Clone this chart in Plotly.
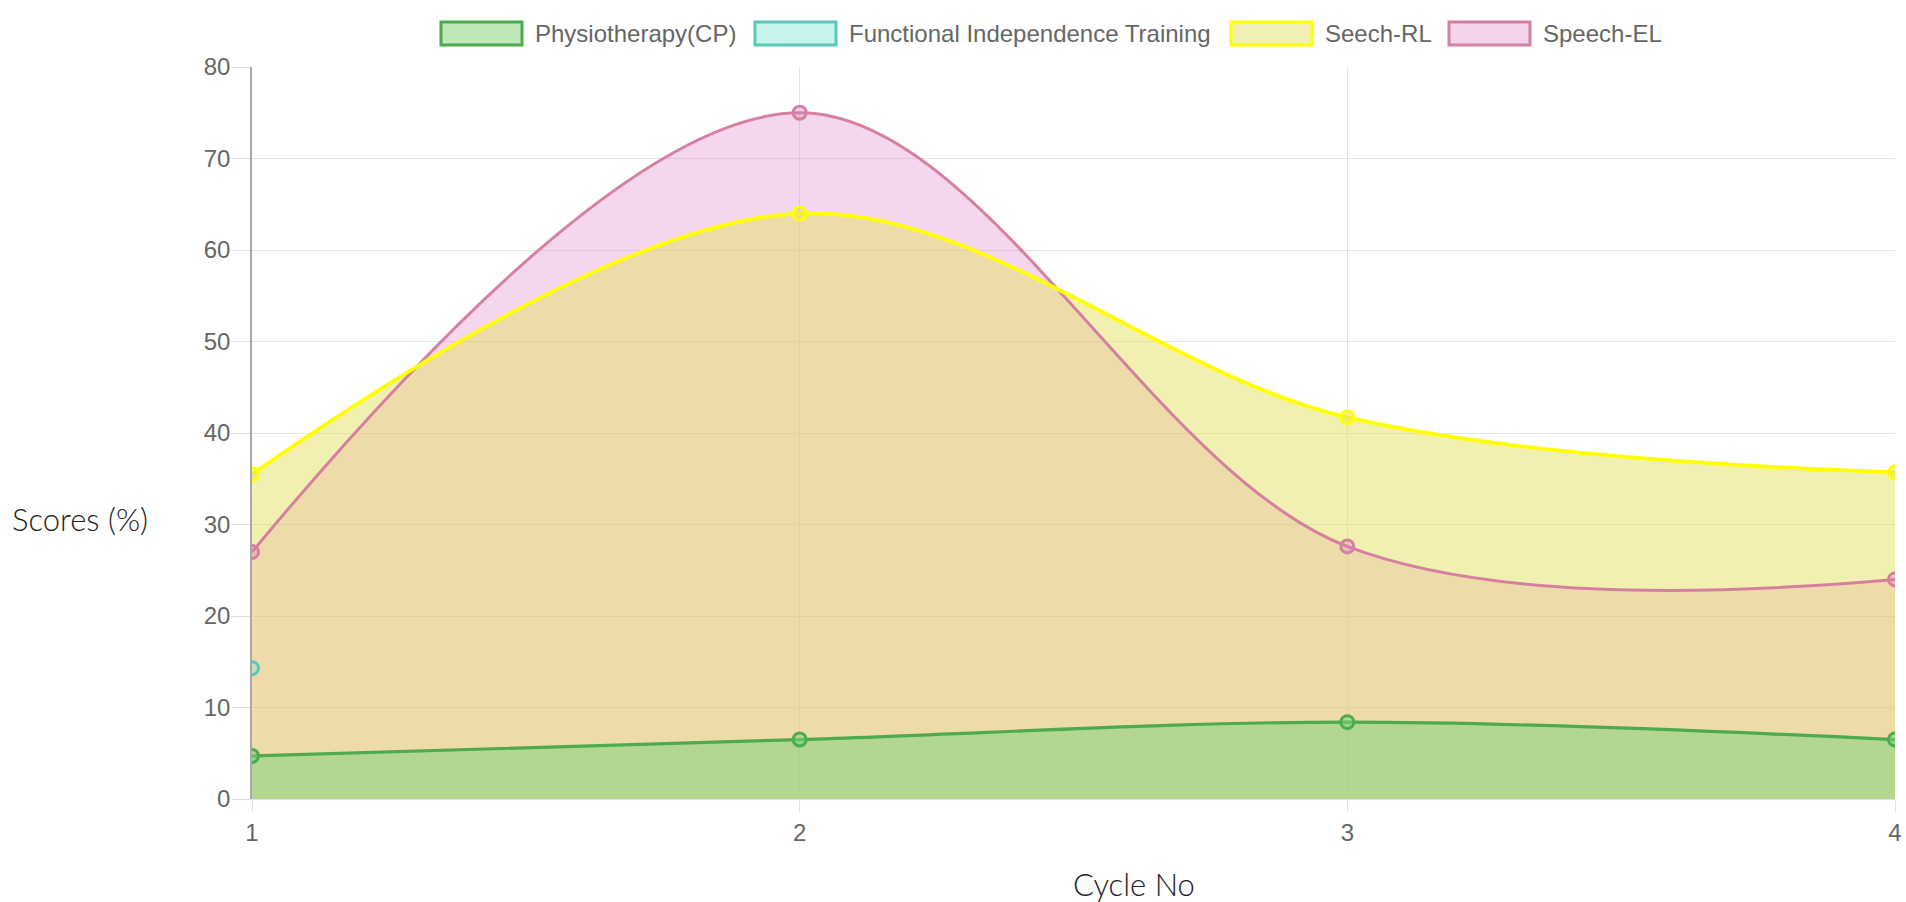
import plotly.graph_objects as go

# ---- data ----
cycles = [1, 2, 3, 4]
physio_cp = [4.7, 6.5, 8.4, 6.5]
functional_training = [14.3, None, None, None]
seech_rl = [35.5, 64.0, 41.7, 35.7]
speech_el = [27.0, 75.0, 27.6, 24.0]

series_names = ["Physiotherapy(CP)", "Functional Independence Training", "Seech-RL", "Speech-EL"]
series_values = [physio_cp, functional_training, seech_rl, speech_el]
line_colors = ["rgb(78,170,78)", "rgb(88,200,188)", "rgb(255,255,0)", "rgb(214,128,160)"]
fill_colors = ["rgba(121,209,124,0.5)", "rgba(120,230,215,0.35)", "rgba(230,225,100,0.5)", "rgba(220,120,200,0.3)"]
legend_fill = ["#bfe8b8", "#c8f4ee", "#f0f0b4", "#f3d4ea"]
line_widths = [3.2, 2.5, 3.8, 3.0]
y_ticks = [0, 10, 20, 30, 40, 50, 60, 70, 80]

W, H = 1906, 902
L, R, T, B = 252, 11, 67, 103

def px_x(px):  # page pixel -> paper
    return (px - L) / (W - L - R)

def px_y(py):
    return (H - B - py) / (H - T - B)

fig = go.Figure()
# Chart.js style: all fills first (last dataset lowest), then lines on top
for i in reversed(range(len(series_names))):
    fig.add_trace(go.Scatter(
        x=cycles, y=series_values[i], name=series_names[i],
        mode="lines", fill="tozeroy", fillcolor=fill_colors[i],
        line=dict(color="rgba(0,0,0,0)", width=0, shape="spline", smoothing=1.0),
        showlegend=False, hoverinfo="skip",
    ))
for i in reversed(range(len(series_names))):
    fig.add_trace(go.Scatter(
        x=cycles, y=series_values[i], name=series_names[i],
        mode="lines+markers",
        line=dict(color=line_colors[i], width=line_widths[i], shape="spline", smoothing=1.0),
        marker=dict(size=13, color=fill_colors[i], line=dict(color=line_colors[i], width=3)),
        showlegend=False,
    ))

shapes = []
annotations = []
box_left = [441, 755, 1231, 1449]
for i, name in enumerate(series_names):
    x0 = box_left[i]
    shapes.append(dict(type="rect", xref="paper", yref="paper",
                       x0=px_x(x0), x1=px_x(x0 + 81), y0=px_y(45), y1=px_y(22),
                       fillcolor=legend_fill[i], line=dict(color=line_colors[i], width=3)))
    annotations.append(dict(text=name, xref="paper", yref="paper", x=px_x(x0 + 92), y=px_y(34),
                            xanchor="left", yanchor="middle", showarrow=False,
                            font=dict(family="Liberation Sans, Arial", size=24, color="#666")))

annotations.append(dict(text="Scores (%)", xref="paper", yref="paper", x=px_x(80), y=px_y(519),
                        xanchor="center", yanchor="middle", showarrow=False,
                        font=dict(family="Lato", size=31, color="#222", weight=300)))
annotations.append(dict(text="Cycle No", xref="paper", yref="paper", x=px_x(1134), y=px_y(884),
                        xanchor="center", yanchor="middle", showarrow=False,
                        font=dict(family="Lato", size=31, color="#222", weight=300)))

fig.update_layout(
    width=W, height=H,
    margin=dict(l=L, r=R, t=T, b=B),
    paper_bgcolor="white", plot_bgcolor="white",
    shapes=shapes, annotations=annotations,
    showlegend=False,
    font=dict(family="Liberation Sans, Arial", size=24, color="#666"),
)
fig.update_xaxes(range=[1, 4], tickvals=cycles, ticktext=[str(c) for c in cycles],
                 showgrid=True, gridcolor="#e5e5e5", gridwidth=1, automargin=False,
                 ticks="outside", ticklen=12, tickcolor="#e0e0e0",
                 showline=True, linecolor="#e0e0e0", zeroline=False,
                 tickfont=dict(size=24, color="#666"))
fig.update_yaxes(range=[0, 80], tickvals=y_ticks, automargin=False,
                 showgrid=True, gridcolor="#e5e5e5", gridwidth=1,
                 ticks="outside", ticklen=19, tickcolor="#e0e0e0",
                 showline=True, linecolor="#a8a8a8", linewidth=1.5, zeroline=False,
                 ticklabelstandoff=-4,
                 tickfont=dict(size=24, color="#666"))

# remove the default 8px body margin so the figure fills the 1906x902 window exactly
fig.write_html("out.html", config={"displayModeBar": False},
               post_script="document.body.style.margin='0';document.body.style.overflow='hidden';")
